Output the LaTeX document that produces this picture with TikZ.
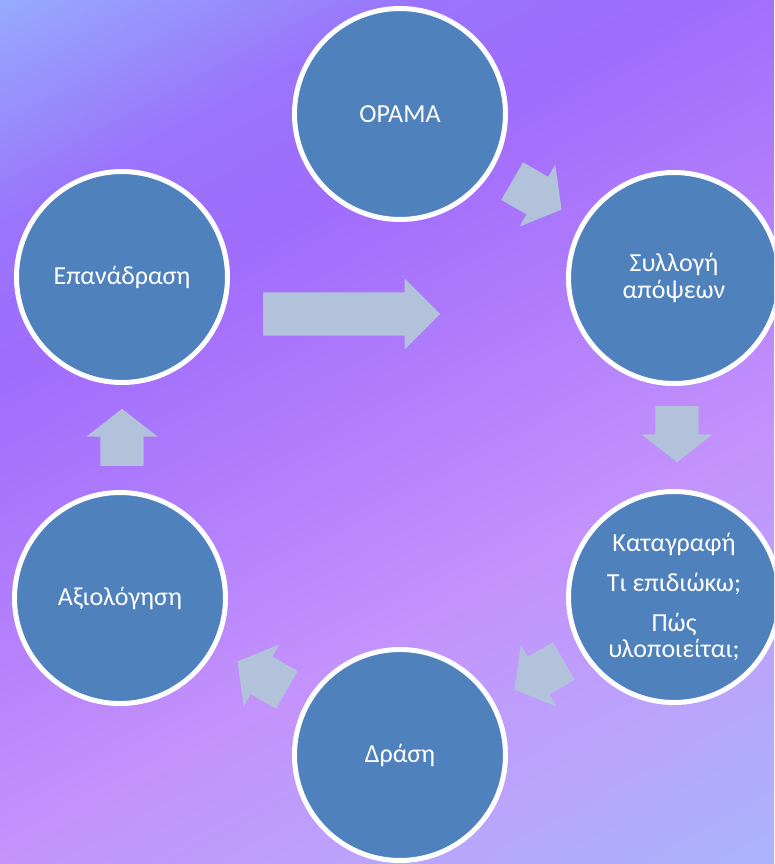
\documentclass[tikz,border=0pt]{standalone}
\usepackage{fontspec}
\setmainfont{Carlito}
\usetikzlibrary{shapes.arrows}

\definecolor{stageblue}{RGB}{79,129,189}
\definecolor{arrowgrey}{RGB}{178,194,218}
\definecolor{bgA}{RGB}{150,170,252}
\definecolor{bgB}{RGB}{154,116,252}
\definecolor{bgC}{RGB}{160,108,252}
\definecolor{bgD}{RGB}{180,128,252}
\definecolor{bgE}{RGB}{196,146,252}
\definecolor{bgF}{RGB}{186,164,252}
\definecolor{bgG}{RGB}{170,180,252}

\pgfdeclarehorizontalshading{bgfade}{100bp}{color(0bp)=(bgA); color(16bp)=(bgA); color(28bp)=(bgB); color(36bp)=(bgC); color(50bp)=(bgD); color(61bp)=(bgE); color(73bp)=(bgF); color(84bp)=(bgG); color(100bp)=(bgG)}

\tikzset{
  stage/.style={circle, fill=stageblue, draw=white, line width=5pt, minimum size=211pt,
    inner sep=0pt, text=white, font=\fontsize{26}{26.5}\selectfont, align=center},
  blockarrow/.style={single arrow, fill=arrowgrey, draw=none, inner xsep=0pt,
    inner ysep=21.5pt, single arrow head extend=14pt, single arrow tip angle=104, anchor=tail},
}

\begin{document}
\begin{tikzpicture}[x=1pt,y=-1pt]
   \shade[shading=bgfade, shading angle=-61.6] (0,0) rectangle (774,864);
   \useasboundingbox (0,0) rectangle (774,864);
   \clip (0,0) rectangle (774,864);
   % the six stages
   \node[stage] (orama) at (400,114) {ΟΡΑΜΑ};
   \node[stage] (syllogi) at (674,278) {Συλλογή\\απόψεων};
   \node[stage] (katagrafi) at (674,597) {Καταγραφή\\[14pt]Τι επιδιώκω;\\[13pt]Πώς\\υλοποιείται;};
   \node[stage] (drasi) at (400,755) {Δράση};
   \node[stage] (axiologisi) at (120,598) {Αξιολόγηση};
   \node[stage] (epanadrasi) at (122,277) {Επανάδραση};
   % block arrows between them
   \node[blockarrow, minimum height=57pt, rotate=-30] (orama-syllogi) at (512,181) {};
   \node[blockarrow, minimum height=56pt, rotate=-90] (syllogi-katagrafi) at (677,406) {};
   \node[blockarrow, minimum height=57pt, rotate=-150] (katagrafi-drasi) at (564,661) {};
   \node[blockarrow, minimum height=57pt, rotate=150] (drasi-axiologisi) at (287,690) {};
   \node[blockarrow, minimum height=57pt, rotate=90] (axiologisi-epanadrasi) at (122,466) {};
   \node[blockarrow, minimum height=177pt, single arrow tip angle=90] (epanadrasi-syllogi) at (263,314) {};
\end{tikzpicture}
\end{document}
